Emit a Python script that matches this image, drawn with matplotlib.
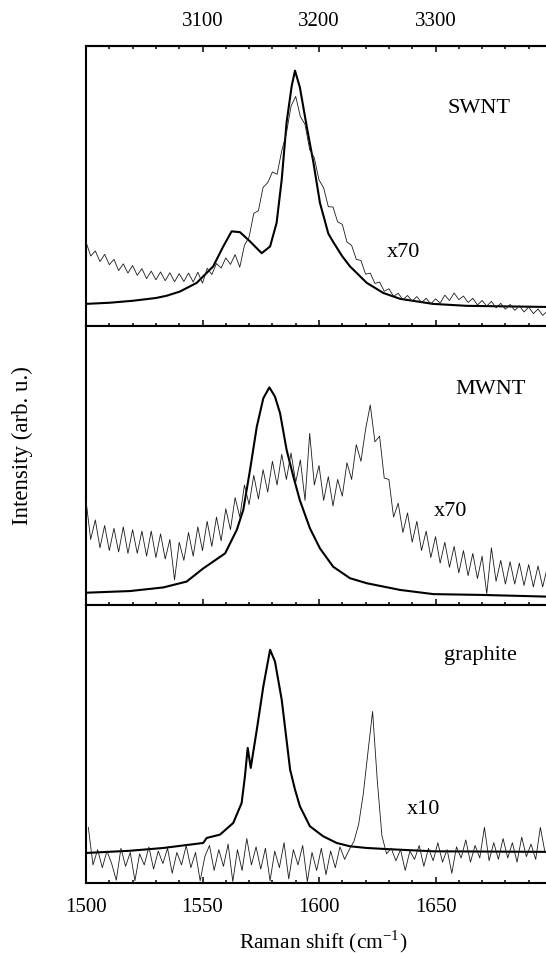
"""Raman spectra of SWNT, MWNT and graphite: G band (thick) and 2D band (thin, scaled)."""

import numpy as np
import matplotlib
matplotlib.use("Agg")
import matplotlib.pyplot as plt
from matplotlib.ticker import MultipleLocator, FixedLocator

plt.rcParams["font.family"] = ["Liberation Serif", "DejaVu Serif"]
plt.rcParams["mathtext.fontset"] = "custom"
plt.rcParams["mathtext.rm"] = "Liberation Serif"

# ------------------------------------------------------------------
# Data (bottom axis: G band, cm^-1; top axis: 2D band, cm^-1)
# ------------------------------------------------------------------

swnt_g_x = [1500, 1510, 1520, 1530, 1534.6, 1540.3, 1547.5, 1554.6, 1558.9, 1562.5,
            1566.1, 1570.4, 1575.4, 1579.0, 1581.8, 1584.0, 1586.1, 1588.3, 1589.7,
            1591.8, 1594.7, 1597.6, 1600.4, 1604.0, 1606.1, 1609.9, 1613.3, 1620.5,
            1627.6, 1634.8, 1648.9, 1663.4, 1698]
swnt_g_y = [7.9, 8.3, 9.0, 10.0, 10.8, 12.3, 15.4, 21.3, 28.4, 33.8,
            33.5, 30.2, 26.0, 28.4, 36.8, 52.3, 72.8, 85.8, 91.2,
            85.2, 71.4, 58.4, 44.0, 33.0, 30.0, 25.0, 21.3, 15.4,
            11.8, 9.7, 7.9, 7.2, 6.8]

mwnt_g_x = [1500, 1518.9, 1533.2, 1543.2, 1550.3, 1559.7, 1564.7, 1567.5, 1570.4,
            1573.3, 1576.1, 1578.7, 1581.1, 1583.3, 1586.1, 1589.0, 1591.8, 1596.1,
            1600.4, 1606.1, 1613.3, 1620.5, 1634.8, 1649.1, 1670.5, 1698]
mwnt_g_y = [4.4, 5.0, 6.3, 8.4, 13.1, 18.5, 26.9, 34.1, 48.4,
            63.9, 74.1, 78.0, 74.7, 68.7, 55.6, 46.0, 37.5, 27.5,
            20.3, 13.7, 9.6, 7.8, 5.4, 3.9, 3.6, 3.0]

graphite_g_x = [1500, 1518.9, 1533.2, 1544.6, 1550.3, 1551.8, 1557.5, 1563.2, 1566.8,
                1568.2, 1569.4, 1570.7, 1573.3, 1576.1, 1579.0, 1581.1, 1584.0,
                1587.6, 1589.7, 1591.8, 1596.1, 1601.8, 1607.6, 1613.3, 1620.5,
                1629.1, 1649.1, 1698]
graphite_g_y = [10.8, 11.6, 12.6, 13.8, 14.4, 16.2, 17.4, 21.6, 28.8,
                38.3, 48.6, 41.4, 55.1, 70.7, 83.9, 79.7, 65.9,
                40.8, 33.6, 27.6, 20.4, 16.8, 14.4, 13.2, 12.6,
                12.2, 11.4, 11.2]

# 2D band traces, sampled every 4 cm^-1
swnt_2d_x = np.arange(3000, 3397, 4)
swnt_2d_y = [30.0, 25.0, 26.8, 23.0, 25.6, 21.9, 23.8, 19.8, 22.2, 18.9,
             21.6, 18.1, 20.5, 16.9, 19.6, 16.5, 19.3, 16.2, 19.0, 15.8,
             18.7, 15.9, 18.9, 15.7, 19.2, 15.3, 20.6, 18.4, 22.3, 20.7,
             24.3, 22.0, 25.5, 21.0, 28.8, 31.8, 40.2, 41.2, 49.5, 51.2,
             55.0, 54.2, 62.5, 68.8, 78.5, 82.0, 74.8, 72.0, 63.0, 60.0,
             52.2, 49.3, 42.6, 42.5, 37.2, 36.3, 30.0, 28.8, 23.8, 23.4,
             18.5, 18.9, 15.2, 15.7, 12.4, 13.3, 10.6, 11.7, 9.4, 10.9,
             8.9, 10.5, 8.4, 9.9, 7.9, 9.7, 8.2, 11.0, 9.1, 11.8,
             9.4, 10.7, 8.4, 9.9, 7.5, 9.1, 7.1, 8.8, 6.5, 8.1,
             6.0, 7.7, 5.6, 7.2, 5.0, 6.8, 4.4, 6.1, 3.8, 5.3]

mwnt_2d_x = np.arange(3000, 3397, 4)
mwnt_2d_y = [37.5, 23.5, 30.5, 20.5, 28.5, 19.5, 27.5, 19.0, 28.0, 18.5,
             27.0, 18.5, 26.5, 17.5, 26.5, 17.0, 25.5, 16.5, 23.5, 9.0,
             22.5, 16.0, 26.0, 17.5, 28.0, 19.5, 30.0, 21.0, 31.5, 23.0,
             34.5, 27.0, 38.5, 31.5, 43.0, 36.0, 46.5, 38.0, 48.5, 40.5,
             51.5, 43.0, 54.0, 45.0, 54.5, 44.0, 52.0, 37.5, 61.5, 43.0,
             50.0, 37.5, 46.0, 35.5, 45.0, 39.0, 51.0, 45.0, 57.5, 51.5,
             63.0, 71.7, 58.5, 60.5, 45.5, 45.0, 31.5, 36.5, 26.0, 33.0,
             22.5, 30.0, 19.5, 26.5, 17.0, 24.5, 15.0, 22.5, 13.5, 21.0,
             11.5, 19.5, 10.5, 18.5, 9.5, 17.5, 4.0, 20.5, 8.5, 16.0,
             7.5, 15.5, 7.5, 15.0, 7.0, 14.5, 6.5, 14.0, 6.5, 13.5]

graphite_2d_x = np.arange(3002, 3395, 4)
graphite_2d_y = [20.0, 6.5, 12.0, 5.5, 11.5, 7.0, 1.0, 12.5, 6.0, 11.0,
                 0.8, 10.5, 6.5, 13.0, 5.0, 11.5, 7.0, 12.5, 3.5, 11.0,
                 6.5, 13.5, 5.5, 11.0, 0.8, 9.5, 13.5, 4.5, 12.0, 6.0,
                 14.0, 0.5, 12.0, 4.5, 16.0, 6.5, 13.0, 5.0, 12.5, 0.8,
                 11.5, 5.5, 14.5, 1.5, 12.0, 6.5, 13.5, 0.5, 11.0, 4.5,
                 12.5, 3.0, 11.5, 5.5, 13.0, 8.5, 12.0, 15.0, 21.0, 32.0,
                 47.0, 61.7, 37.0, 17.0, 10.5, 12.5, 8.0, 12.0, 4.5, 11.5,
                 8.5, 13.5, 6.0, 12.5, 8.0, 14.5, 7.5, 12.0, 3.5, 13.0,
                 9.0, 15.5, 7.5, 13.5, 9.0, 20.0, 8.0, 14.5, 8.5, 16.0,
                 9.0, 14.5, 7.5, 16.5, 9.5, 14.0, 8.5, 20.0, 11.0]

samples = ["SWNT", "MWNT", "graphite"]
scales = ["x70", "x70", "x10"]
top_ticks = [3100, 3200, 3300]

# ------------------------------------------------------------------
# Figure
# ------------------------------------------------------------------

W, H = 546, 956
fig = plt.figure(figsize=(W / 100, H / 100), dpi=100)

left, right = 86, 546
px_per_cm = 2.33
panel_px = [(46, 326), (326, 605), (605, 883)]
g_lim = (1500, 1500 + (right - left) / px_per_cm)
d2_lim = (2 * g_lim[0], 2 * g_lim[1])

g_data = [(swnt_g_x, swnt_g_y), (mwnt_g_x, mwnt_g_y), (graphite_g_x, graphite_g_y)]
d2_data = [(swnt_2d_x, swnt_2d_y), (mwnt_2d_x, mwnt_2d_y), (graphite_2d_x, graphite_2d_y)]

# label positions in axes fractions: (name x, name y, scale x, scale y)
label_pos = [(0.854, 0.777, 0.691, 0.262),
             (0.879, 0.771, 0.793, 0.334),
             (0.857, 0.820, 0.733, 0.263)]

tick_kw = dict(direction="in", width=1.1, labelsize=15, pad=11)


def style_ticks(axis_obj, major, minor):
    axis_obj.xaxis.set_major_locator(major)
    axis_obj.xaxis.set_minor_locator(MultipleLocator(minor))
    axis_obj.tick_params(axis="x", which="major", length=4.5)
    axis_obj.tick_params(axis="x", which="minor", length=2.4)


for i, (top_px, bot_px) in enumerate(panel_px):
    ax = fig.add_axes([left / W, 1 - bot_px / H, (right - left) / W, (bot_px - top_px) / H])
    gx, gy = g_data[i]
    ax.plot(gx, gy, color="black", lw=1.5)
    ax.set_xlim(*g_lim)
    ax.set_ylim(0, 100)
    ax.set_yticks([])
    ax.spines["right"].set_visible(False)
    for s in ("left", "top", "bottom"):
        ax.spines[s].set_linewidth(1.5)
    ax.tick_params(axis="x", which="both", top=(i > 0), bottom=True,
                   labelbottom=(i == 2), **tick_kw)
    style_ticks(ax, MultipleLocator(50), 10)

    tw = ax.twiny()
    dx, dy = d2_data[i]
    tw.plot(dx, dy, color="#1a1a1a", lw=0.6)
    tw.set_xlim(*d2_lim)
    for s in tw.spines.values():
        s.set_visible(False)
    if i == 0:
        tw.spines["top"].set_visible(True)
        tw.spines["top"].set_linewidth(1.5)
        tw.tick_params(axis="x", which="both", top=True, labeltop=True, **tick_kw)
        style_ticks(tw, FixedLocator(top_ticks), 20)
    else:
        tw.tick_params(axis="x", which="both", top=False, labeltop=False)

    nx, ny, sx, sy = label_pos[i]
    ax.text(nx, ny, samples[i], transform=ax.transAxes, fontsize=16, ha="center", va="center")
    ax.text(sx, sy, scales[i], transform=ax.transAxes, fontsize=16, ha="center", va="center")

fig.text(22 / W, 1 - 446 / H, "Intensity (arb. u.)", rotation=90, fontsize=16.5,
         ha="center", va="center")
fig.text(323 / W, 1 - 942 / H, "Raman shift (cm$^{-1}$)", fontsize=15.5,
         ha="center", va="center")

fig.savefig("out.png", dpi=100)
